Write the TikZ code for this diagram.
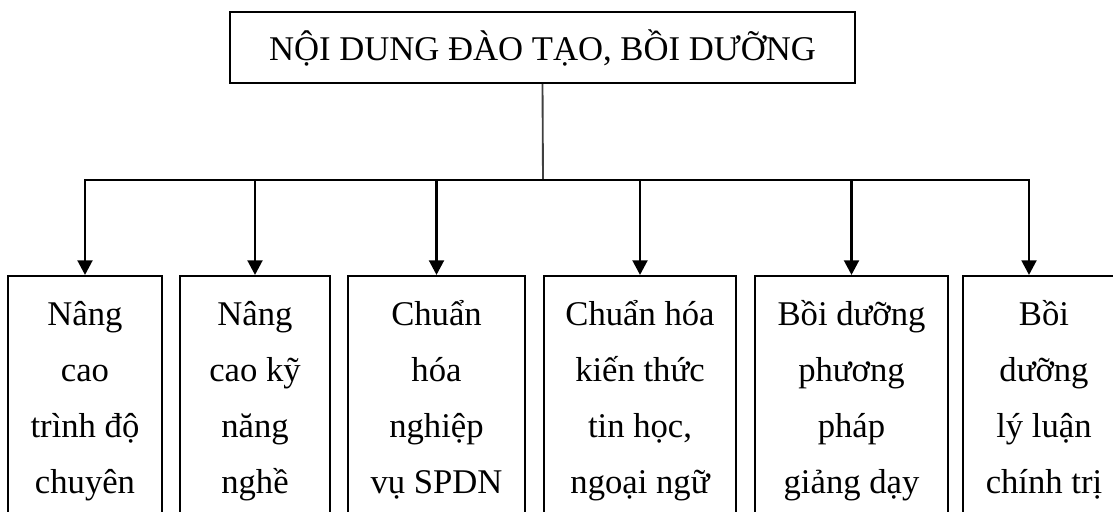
\documentclass[tikz,border=0pt]{standalone}
\usepackage{fontspec}
\setmainfont{Liberation Serif}
\usetikzlibrary{arrows.meta}
\begin{document}
\begin{tikzpicture}[x=0.75pt,y=-0.75pt,
  every node/.style={font=\fontsize{26}{42}\selectfont},
  topbox/.style={draw, line width=1.5pt, minimum width=468.75pt, minimum height=53.25pt, inner sep=0pt},
  itembox/.style={draw, line width=1.5pt, minimum height=182.7pt, inner sep=0pt, align=center},
  arrowlink/.style={line width=2.2pt, line join=miter, -{Triangle[length=11pt,width=11pt]}},
  stem/.style={line width=1.4pt, black!75}]
\useasboundingbox (0,0) rectangle (1113,511);
\clip (0,0) rectangle (1113,511);

\node[topbox] (top) at (542.5,47.5) {NỘI DUNG ĐÀO TẠO, BỒI DƯỠNG};
\coordinate (hub) at (543,180);

\node[itembox, minimum width=115.5pt] (b1) at (85,397.8) {\strut Nâng\\\strut cao\\\strut trình độ\\\strut chuyên};
\node[itembox, minimum width=112.5pt] (b2) at (255,397.8) {\strut Nâng\\\strut cao kỹ\\\strut năng\\\strut nghề};
\node[itembox, minimum width=132.75pt] (b3) at (436.5,397.8) {\strut Chuẩn\\\strut hóa\\\strut nghiệp\\\strut vụ SPDN};
\node[itembox, minimum width=144pt] (b4) at (640,397.8) {\strut Chuẩn hóa\\\strut kiến thức\\\strut tin học,\\\strut ngoại ngữ};
\node[itembox, minimum width=144.75pt] (b5) at (851.5,397.8) {\strut Bồi dưỡng\\\strut phương\\\strut pháp\\\strut giảng dạy};
\node[itembox, minimum width=121.5pt] (b6) at (1044,397.8) {\strut Bồi\\\strut dưỡng\\\strut lý luận\\\strut chính trị};
\coordinate (b6in) at ([xshift=50.25pt]b6.north west);

\draw[stem] (top.south) -- (hub);
\draw[arrowlink] (hub) -| (b1.north);
\draw[arrowlink] (hub) -| (b2.north);
\draw[arrowlink] (hub) -| (b3.north);
\draw[arrowlink] (hub) -| (b4.north);
\draw[arrowlink] (hub) -| (b5.north);
\draw[arrowlink] (hub) -| (b6in);
\end{tikzpicture}
\end{document}
